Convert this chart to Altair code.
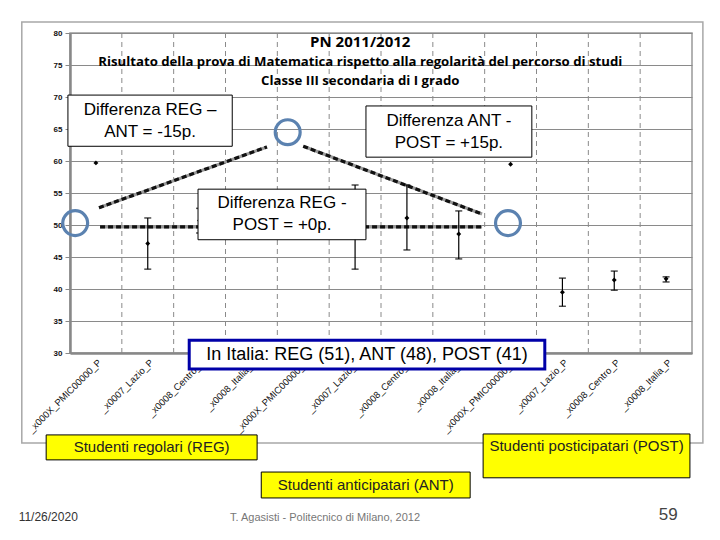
import altair as alt
import pandas as pd

# ---------------- data ----------------
categories = ["_x000X_PMIC00000_P", "_x0007_Lazio_P", "_x0008_Centro_P", "_x0008_Italia_P",
              "_x000X_PMIC00000_P", "_x0007_Lazio_P", "_x0008_Centro_P", "_x0008_Italia_P",
              "_x000X_PMIC00000_P", "_x0007_Lazio_P", "_x0008_Centro_P", "_x0008_Italia_P"]
values = [59.7, 47.1, 50.7, 51.0, None, 49.7, 51.1, 48.6, 59.5, 39.5, 41.4, 41.6]
err_lo = [None, 43.1, 48.75, 50.6, None, 43.1, 46.1, 44.7, None, 37.3, 39.8, 41.1]
err_hi = [None, 51.1, 52.6, 51.4, None, 56.25, 56.25, 52.2, None, 41.7, 42.8, 41.9]
y_ticks = [30, 35, 40, 45, 50, 55, 60, 65, 70, 75, 80]

# annotations (in category units / score points)
circles_x = [0.10, 4.20, 8.45]
circles_y = [50.3, 64.5, 50.3]
arrows = [  # x, y, x2, y2
    (0.56, 52.7, 3.80, 62.2),
    (4.50, 62.3, 7.95, 51.7),
    (0.58, 49.7, 7.95, 49.7),
]
white_boxes = [  # x0, x1, ytop, ybottom, text
    (-0.04, 3.13, 70.3, 62.3, "Differenza REG –\nANT = -15p."),
    (5.71, 8.91, 68.6, 60.6, "Differenza ANT -\nPOST = +15p."),
    (2.47, 5.71, 55.6, 47.7, "Differenza REG -\nPOST = +0p."),
]
italia_box = (2.30, 9.16, 32.0, 27.5, "In Italia: REG (51), ANT (48), POST (41)")
yellow_boxes = [  # x0, x1, ytop, ybottom, text_y, text
    (-0.46, 3.61, 17.2, 13.3, 15.25, "Studenti regolari (REG)"),
    (3.69, 7.72, 11.4, 7.35, 9.4, "Studenti anticipatari (ANT)"),
    (7.97, 11.96, 17.35, 10.5, 15.5, "Studenti posticipatari (POST)"),
]
frame = (-0.93, 12.21, 81.7, 15.95)
titles = [(5.6, 78.55, 15, "PN 2011/2012"),
          (5.6, 75.45, 13.2, "Risultato della prova di Matematica rispetto alla regolarità del percorso di studi"),
          (5.6, 72.5, 13.2, "Classe III secondaria di I grado")]
footer = [(-0.42, 4.35, 12, "#333333", "11/26/2020"),
          (4.92, 4.2, 11, "#777777", "T. Agasisti - Politecnico di Milano, 2012"),
          (11.54, 4.7, 17, "#444444", "59")]

# ---------------- tables ----------------
df = pd.DataFrame({"xc": [i + 0.5 for i in range(len(categories))],
                   "value": values, "lo": err_lo, "hi": err_hi})
df_err = df.dropna(subset=["lo"])
df_pts = df.dropna(subset=["value"])
df_grid = pd.DataFrame({"xg": list(range(1, len(categories)))})
df_circ = pd.DataFrame({"x": circles_x, "y": circles_y})
df_arr = pd.DataFrame(arrows, columns=["x", "y", "x2", "y2"])
df_wb = pd.DataFrame(white_boxes, columns=["x0", "x1", "y0", "y1", "text"])
df_wb["xm"] = (df_wb.x0 + df_wb.x1) / 2
df_wb["ym"] = (df_wb.y0 + df_wb.y1) / 2
df_it = pd.DataFrame([italia_box], columns=["x0", "x1", "y0", "y1", "text"])
df_it["xm"] = (df_it.x0 + df_it.x1) / 2
df_it["ym"] = (df_it.y0 + df_it.y1) / 2
df_yb = pd.DataFrame(yellow_boxes, columns=["x0", "x1", "y0", "y1", "ty", "text"])
df_yb["xm"] = (df_yb.x0 + df_yb.x1) / 2
df_fr = pd.DataFrame([frame], columns=["x0", "x1", "y0", "y1"])
df_ti = pd.DataFrame(titles, columns=["x", "y", "size", "text"])
df_ft = pd.DataFrame(footer, columns=["x", "y", "size", "color", "text"])

xscale = alt.Scale(domain=[0, 12], nice=False, zero=False)
yscale = alt.Scale(domain=[30, 80], nice=False, zero=False)

label_expr = "[" + ",".join("'" + c + "'" for c in categories) + "][floor(datum.value)]"
xaxis = alt.Axis(values=[i + 0.5 for i in range(12)], labelExpr=label_expr, labelAngle=315,
                 labelFontSize=9.5, labelFont="Liberation Sans", labelColor="#111111",
                 ticks=False, grid=False, domainColor="#888888", domainWidth=2.5,
                 labelPadding=4, title=None, labelOverlap=False, zindex=0)
yaxis = alt.Axis(values=y_ticks, grid=True, gridColor="#8a8a8a", gridWidth=1,
                 tickSize=5, tickColor="#888888", domainColor="#888888", domainWidth=2.5,
                 labelFontSize=8, labelFontWeight="bold", labelFont="Liberation Sans",
                 labelColor="#111111", labelPadding=3, title=None, zindex=0)


def X(f):
    return alt.X(f, type="quantitative", scale=xscale, axis=xaxis, title=None)


def Y(f):
    return alt.Y(f, type="quantitative", scale=yscale, axis=yaxis, title=None)


frame_l = alt.Chart(df_fr).mark_rect(fillOpacity=0, stroke="#a8a8a8", strokeWidth=1.5).encode(
    x=X("x0"), x2="x1", y=Y("y0"), y2="y1")

grid_l = alt.Chart(df_grid).mark_rule(color="#8a8a8a", strokeWidth=1, strokeDash=[5, 4]).encode(
    x=X("xg"), y=alt.value(0), y2=alt.value(324))

arr_gray = alt.Chart(df_arr).mark_rule(color="#9a9a9a", strokeWidth=3.2).encode(
    x=X("x"), y=Y("y"), x2="x2", y2="y2")
arr_black = alt.Chart(df_arr).mark_rule(color="#111111", strokeWidth=3.2, strokeDash=[5, 3]).encode(
    x=X("x"), y=Y("y"), x2="x2", y2="y2")

err_l = alt.Chart(df_err).mark_rule(color="black", strokeWidth=1.2).encode(
    x=X("xc"), y=Y("lo"), y2="hi")
cap_lo = alt.Chart(df_err).mark_tick(orient="horizontal", color="black", size=7, thickness=1.5).encode(
    x=X("xc"), y=Y("lo"))
cap_hi = alt.Chart(df_err).mark_tick(orient="horizontal", color="black", size=7, thickness=1.5).encode(
    x=X("xc"), y=Y("hi"))
pts_l = alt.Chart(df_pts).mark_point(shape="diamond", filled=True, color="black", size=24, opacity=1).encode(
    x=X("xc"), y=Y("value"))

circ_l = alt.Chart(df_circ).mark_point(shape="circle", filled=False, stroke="#5b82b0", strokeWidth=3.2,
                                       size=620, opacity=1).encode(x=X("x"), y=Y("y"))

wb_rect = alt.Chart(df_wb).mark_rect(fill="white", stroke="black", strokeWidth=1).encode(
    x=X("x0"), x2="x1", y=Y("y0"), y2="y1")
wb_text = alt.Chart(df_wb).mark_text(font="Liberation Sans", fontSize=17, lineBreak="\n", lineHeight=22,
                                     dy=-11, color="black", align="center", baseline="middle").encode(
    x=X("xm"), y=Y("ym"), text="text:N")

it_rect = alt.Chart(df_it).mark_rect(fill="white", stroke="#0000a8", strokeWidth=3).encode(
    x=X("x0"), x2="x1", y=Y("y0"), y2="y1")
it_text = alt.Chart(df_it).mark_text(font="Liberation Sans", fontSize=18, color="black",
                                     align="center", baseline="middle").encode(
    x=X("xm"), y=Y("ym"), text="text:N")

yb_rect = alt.Chart(df_yb).mark_rect(fill="#ffff00", stroke="black", strokeWidth=1).encode(
    x=X("x0"), x2="x1", y=Y("y0"), y2="y1")
yb_text = alt.Chart(df_yb).mark_text(font="Liberation Sans", fontSize=15, color="#222222",
                                     align="center", baseline="middle").encode(
    x=X("xm"), y=Y("ty"), text="text:N")

ti_l = alt.Chart(df_ti).mark_text(font="Open Sans", fontWeight="bold", color="black",
                                  align="center", baseline="middle").encode(
    x=X("x"), y=Y("y"), text="text:N", size=alt.Size("size:Q", scale=None, legend=None))

ft_l = alt.Chart(df_ft).mark_text(font="Liberation Sans", align="center", baseline="middle").encode(
    x=X("x"), y=Y("y"), text="text:N",
    size=alt.Size("size:Q", scale=None, legend=None),
    color=alt.Color("color:N", scale=None, legend=None))

chart = alt.layer(
    frame_l, grid_l, arr_gray, arr_black, err_l, cap_lo, cap_hi, pts_l, circ_l,
    wb_rect, wb_text, it_rect, it_text, ti_l, yb_rect, yb_text, ft_l
).properties(
    width=622, height=320,
    autosize=alt.AutoSizeParams(type="none"),
    padding={"left": 62, "top": 25, "right": 20, "bottom": 179},
    background="white",
).configure_view(stroke="#999999", strokeWidth=1.5)

chart.save("out.html", embed_options={"renderer": "svg", "actions": False})
